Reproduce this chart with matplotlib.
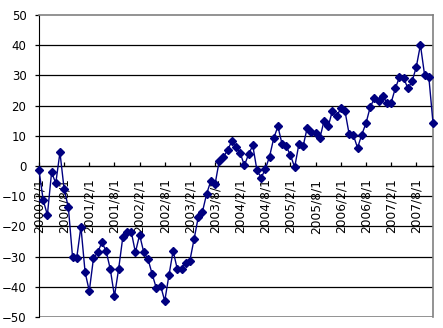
# Monthly index chart, 2000/2 - 2007/12
import numpy as np
import pandas as pd
import matplotlib
matplotlib.use("Agg")
import matplotlib.pyplot as plt


# Data ........................................................................
months = pd.date_range("2000-02-01", periods=95, freq="MS")
month_labels = [f"{d.year}/{d.month}/{d.day}" for d in months]

values = [-1.4, -11.3, -16.2, -2.1, -5.7, 4.5, -7.7, -13.7, -30.1, -30.4,
          -20.1, -35.2, -41.4, -30.5, -28.6, -25.3, -28.1, -34.1, -43.1, -34.1,
          -23.5, -22.0, -21.7, -28.6, -22.8, -28.6, -30.8, -35.8, -40.5, -39.6,
          -44.7, -36.2, -28.1, -34.2, -34.0, -32.1, -31.3, -24.2, -16.9, -15.1,
          -9.2, -4.9, -6.1, 1.7, 2.9, 5.3, 8.2, 6.2, 4.3, 0.2,
          3.9, 6.8, -1.4, -3.9, -1.0, 3.1, 9.2, 13.1, 7.2, 6.5,
          3.5, -0.4, 7.2, 6.5, 12.7, 11.3, 11.0, 9.2, 14.9, 13.1,
          18.3, 16.4, 19.1, 18.2, 10.5, 10.2, 6.0, 10.4, 14.1, 19.4,
          22.4, 21.5, 23.3, 20.9, 20.9, 25.7, 29.4, 29.2, 25.7, 28.0,
          32.7, 40.1, 30.1, 29.5, 14.3]

y_ticks = [-50, -40, -30, -20, -10, 0, 10, 20, 30, 40, 50]
label_step = 6


# Plot ........................................................................
fig = plt.figure(figsize=(4.43, 3.28), dpi=100)
ax = fig.add_axes([39 / 443, 11 / 328, 394 / 443, 302 / 328])

# x axis crosses at zero (set before the ticks: this resets them)
ax.spines["bottom"].set_position(("data", 0))
ax.spines["bottom"].set_color("black")
ax.spines["bottom"].set_linewidth(1.0)

x = np.arange(len(values))
ax.plot(x, values, color="#000080", lw=1, marker="D", ms=4,
        mfc="#000080", mec="#000080", clip_on=False, zorder=3)

# gridlines
for v in y_ticks[1:-1]:
    if v != 0:
        ax.axhline(v, color="black", lw=0.9, zorder=1)
ax.axhline(-50, color="#808080", lw=1.2, zorder=1)

ax.set_xlim(0, len(values) - 1)
ax.set_ylim(-50, 50)
ax.set_yticks(y_ticks)

ax.set_xticks(x[::label_step])
ax.set_xticklabels(month_labels[::label_step], rotation=90, fontsize=8.8)
ax.tick_params(axis="x", direction="in", length=3, pad=9, width=0.9)
ax.tick_params(axis="y", direction="out", length=3, pad=6, labelsize=8.5,
               width=0.9)

ax.spines["left"].set_color("black")
ax.spines["top"].set_color("#808080")
ax.spines["right"].set_color("#808080")
ax.spines["top"].set_linewidth(1.2)
ax.spines["right"].set_linewidth(1.2)

plt.savefig("out.png", dpi=100)
